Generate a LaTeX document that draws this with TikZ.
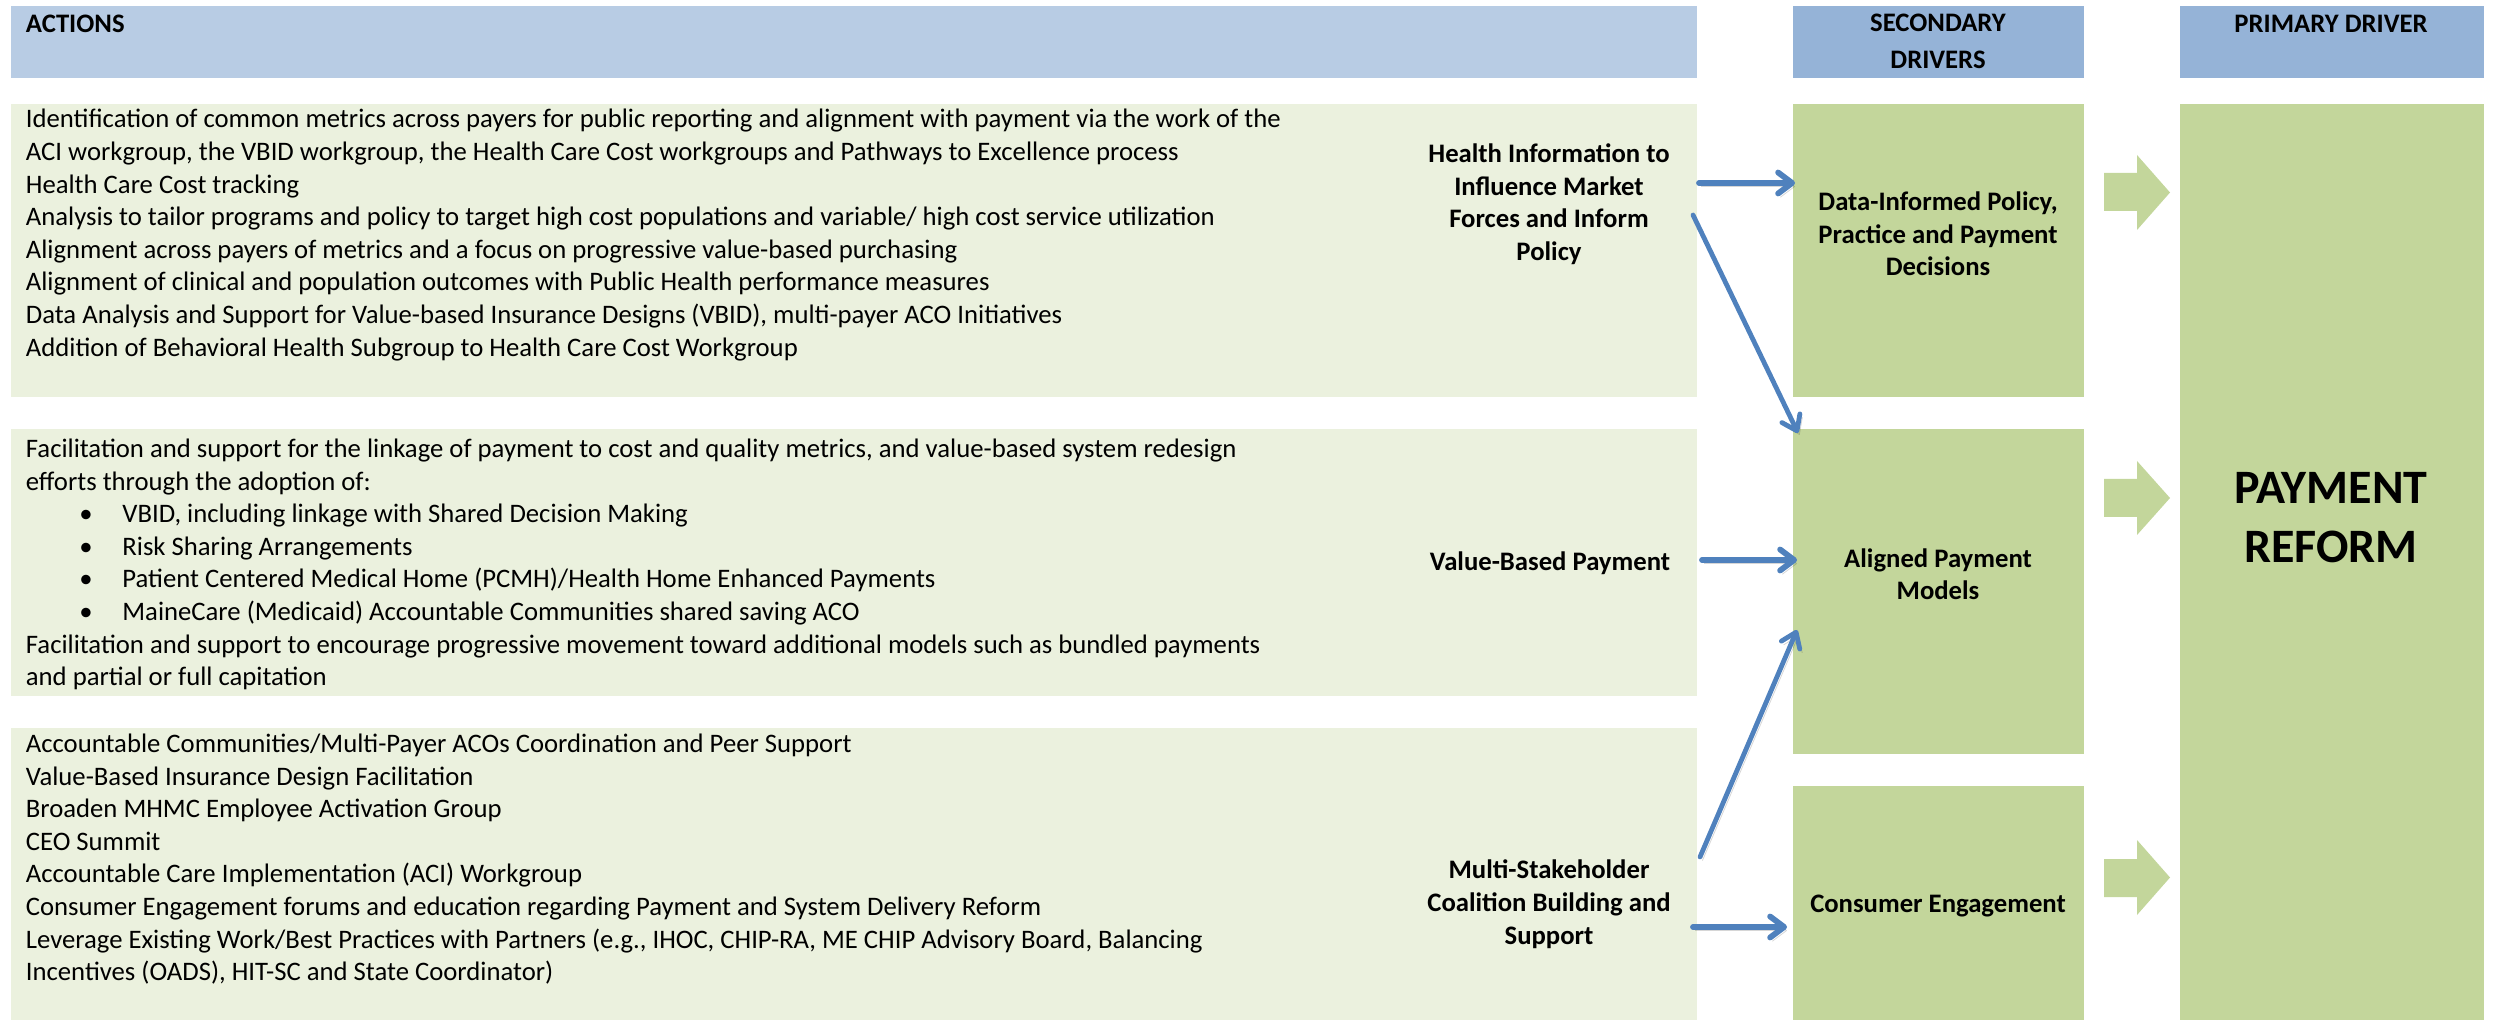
\documentclass[tikz,border=0pt]{standalone}
\usepackage{fontspec}
\setmainfont{Carlito}
\usetikzlibrary{arrows.meta,calc}
\definecolor{hdrlight}{HTML}{B8CCE4}
\definecolor{hdrdark}{HTML}{95B3D7}
\definecolor{actfill}{HTML}{EBF1DE}
\definecolor{drvfill}{HTML}{C3D69B}
\definecolor{arrblue}{HTML}{4F81BD}
\begin{document}
\begin{tikzpicture}[x=0.5pt,y=-0.5pt,
  boxbase/.style={draw=none, inner sep=0pt, outer sep=0pt, anchor=north west},
  hdrA/.style={boxbase, fill=hdrlight},
  hdrB/.style={boxbase, fill=hdrdark},
  actbox/.style={boxbase, fill=actfill, minimum width=843pt},
  drvbox/.style={boxbase, fill=drvfill},
  txt/.style={inner sep=0pt, align=left, font=\fontsize{13.35pt}{16.3pt}\selectfont},
  btxt/.style={inner sep=0pt, align=center, font=\fontsize{13.35pt}{16.3pt}\selectfont\bfseries},
  bigtxt/.style={inner sep=0pt, align=center, font=\fontsize{24pt}{29.3pt}\selectfont\bfseries},
  chev/.style={fill=drvfill},
  shad/.style={preaction={draw=black, opacity=0.16, transform canvas={shift={(1.2pt,-1.8pt)}}}},
  arr/.style={shad, draw=arrblue, line width=2.9pt, line cap=round, -{Straight Barb[length=7pt,width=10.5pt,round]}},
  darr/.style={shad, draw=arrblue, line width=2.4pt, line cap=round, -{Straight Barb[length=7pt,width=10pt,round]}}
]
\useasboundingbox (0,0) rectangle (2494,1020);
% headers
\node[hdrA, minimum width=843pt, minimum height=36pt] (hA) at (11,6) {};
\node[hdrB, minimum width=145.5pt, minimum height=36pt] (hS) at (1793,6) {};
\node[hdrB, minimum width=152pt, minimum height=36pt] (hP) at (2180,6) {};
% action boxes
\node[actbox, minimum height=146.5pt] (act1) at (11,104) {};
\node[actbox, minimum height=133.5pt] (act2) at (11,429) {};
\node[actbox, minimum height=146pt] (act3) at (11,728) {};
% driver boxes
\node[drvbox, minimum width=145.5pt, minimum height=146.5pt] (sec1) at (1793,104) {};
\node[drvbox, minimum width=145.5pt, minimum height=162.5pt] (sec2) at (1793,429) {};
\node[drvbox, minimum width=145.5pt, minimum height=117pt] (sec3) at (1793,786) {};
\node[drvbox, minimum width=152pt, minimum height=458pt] (prim) at (2180,104) {};
% chevrons
\fill[chev] (2104,173) -- (2137,173) -- (2137,155) -- (2170,192.5) -- (2137,230) -- (2137,211) -- (2104,211) -- cycle;
\fill[chev] (2104,479) -- (2137,479) -- (2137,461) -- (2170,498) -- (2137,535) -- (2137,517) -- (2104,517) -- cycle;
\fill[chev] (2104,859) -- (2137,859) -- (2137,840) -- (2170,877.5) -- (2137,915) -- (2137,897) -- (2104,897) -- cycle;
% header texts
\node[btxt, anchor=west] (tA) at (25.5,26) {\strut ACTIONS};
\node[btxt] (tS) at (1938,43.5) {\strut SECONDARY\\[2.2pt]\strut DRIVERS};
\node[btxt] (tP) at (2331,26) {\strut PRIMARY DRIVER};
% action texts
\node[txt, anchor=west] (a1t) at (25.5,235.5) {%
\strut Identification of common metrics across payers for public reporting and alignment with payment via the work of the\\
\strut ACI workgroup, the VBID workgroup, the Health Care Cost workgroups and Pathways to Excellence process\\
\strut Health Care Cost tracking\\
\strut Analysis to tailor programs and policy to target high cost populations and variable/ high cost service utilization\\
\strut Alignment across payers of metrics and a focus on progressive value-based purchasing\\
\strut Alignment of clinical and population outcomes with Public Health performance measures\\
\strut Data Analysis and Support for Value-based Insurance Designs (VBID), multi-payer ACO Initiatives\\
\strut Addition of Behavioral Health Subgroup to Health Care Cost Workgroup};
\node[txt, anchor=west] (a2t) at (25.5,565) {%
\strut Facilitation and support for the linkage of payment to cost and quality metrics, and value-based system redesign\\
\strut efforts through the adoption of:\\
\strut\hspace*{26.75pt}\makebox[21.5pt][l]{\textbullet}VBID, including linkage with Shared Decision Making\\
\strut\hspace*{26.75pt}\makebox[21.5pt][l]{\textbullet}Risk Sharing Arrangements\\
\strut\hspace*{26.75pt}\makebox[21.5pt][l]{\textbullet}Patient Centered Medical Home (PCMH)/Health Home Enhanced Payments\\
\strut\hspace*{26.75pt}\makebox[21.5pt][l]{\textbullet}MaineCare (Medicaid) Accountable Communities shared saving ACO\\
\strut Facilitation and support to encourage progressive movement toward additional models such as bundled payments\\
\strut and partial or full capitation};
\node[txt, anchor=west] (a3t) at (25.5,860) {%
\strut Accountable Communities/Multi-Payer ACOs Coordination and Peer Support\\
\strut Value-Based Insurance Design Facilitation\\
\strut Broaden MHMC Employee Activation Group\\
\strut CEO Summit\\
\strut Accountable Care Implementation (ACI) Workgroup\\
\strut Consumer Engagement forums and education regarding Payment and System Delivery Reform\\
\strut Leverage Existing Work/Best Practices with Partners (e.g., IHOC, CHIP-RA, ME CHIP Advisory Board, Balancing\\
\strut Incentives (OADS), HIT-SC and State Coordinator)};
% bold labels
\node[btxt] (health) at (1549,205) {\strut Health Information to\\\strut Influence Market\\\strut Forces and Inform\\\strut Policy};
\node[btxt] (value) at (1550,564) {\strut Value-Based Payment};
\node[btxt] (multi) at (1549,905) {\strut Multi-Stakeholder\\\strut Coalition Building and\\\strut Support};
\node[btxt] (data) at (1938,236.5) {\strut Data-Informed Policy,\\\strut Practice and Payment\\\strut Decisions};
\node[btxt] (aligned) at (1938,577) {\strut Aligned Payment\\\strut Models};
\node[btxt] (consumer) at (1938,906) {\strut Consumer Engagement};
\node[bigtxt] (reform) at (2331,521) {\strut PAYMENT\\\strut REFORM};
% connectors
\draw[arr] ($(act1.east |- 0,183)+(2,0)$) -- ($(sec1.west |- 0,183)+(2,0)$);
\draw[darr] ($(act1.east |- 0,215)+(-4,0)$) -- ($(sec2.north west)+(5,4)$);
\draw[arr] ($(act2.east |- 0,560)+(5,0)$) -- ($(sec2.west |- 0,560)+(4,0)$);
\draw[darr] ($(act3.east |- 0,857)+(3,0)$) -- ($(sec2.west |- 0,630)+(4,0)$);
\draw[arr] ($(act3.east |- 0,927)+(-4,0)$) -- ($(sec3.west |- 0,927)+(-6,0)$);
\end{tikzpicture}
\end{document}
